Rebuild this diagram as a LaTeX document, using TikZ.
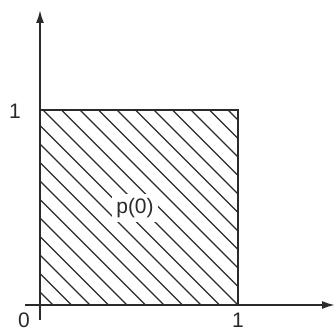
\documentclass[tikz,border=0pt]{standalone}
\usepackage{fontspec}
\setmainfont{Liberation Sans}
\usetikzlibrary{arrows.meta,positioning}
\definecolor{ink}{HTML}{2A2A2A}
\tikzset{axis/.style={draw=ink,line width=1.8pt,-{Latex[length=13pt,width=8pt]}},frame/.style={draw=ink,line width=1.7pt},hatch/.style={draw=ink,line width=1.2pt},tick/.style={font=\fontsize{21}{25}\selectfont,text=ink,inner sep=1pt}}

\begin{document}
\begin{tikzpicture}[x=1pt,y=1pt]
\useasboundingbox (-40,-29) rectangle (296,305);
\coordinate (o) at (0,0);
\coordinate (xl) at (-15,0);
\coordinate (xr) at (295,0);
\coordinate (yb) at (0,-15);
\coordinate (yt) at (0,295);
\coordinate (sq) at (198,195);
\begin{scope}
\clip (o) rectangle (sq);
\foreach \c in {13,31.5,...,400} \draw[hatch] (\c-200,200) -- (\c+200,-200);
\end{scope}
\draw[frame] (0,195) -- (sq) -- (198,0);
\draw[axis] (xl) -- (xr);
\draw[axis] (yb) -- (yt);
\node[tick] (zero) at (-16,-15) {0};
\node[tick] (onex) at (198,-15) {1};
\node[tick] (oney) at (-25,194) {1};
\node[tick,fill=white,inner sep=4pt] (label) at (95,97) {p(0)};
\end{tikzpicture}
\end{document}
